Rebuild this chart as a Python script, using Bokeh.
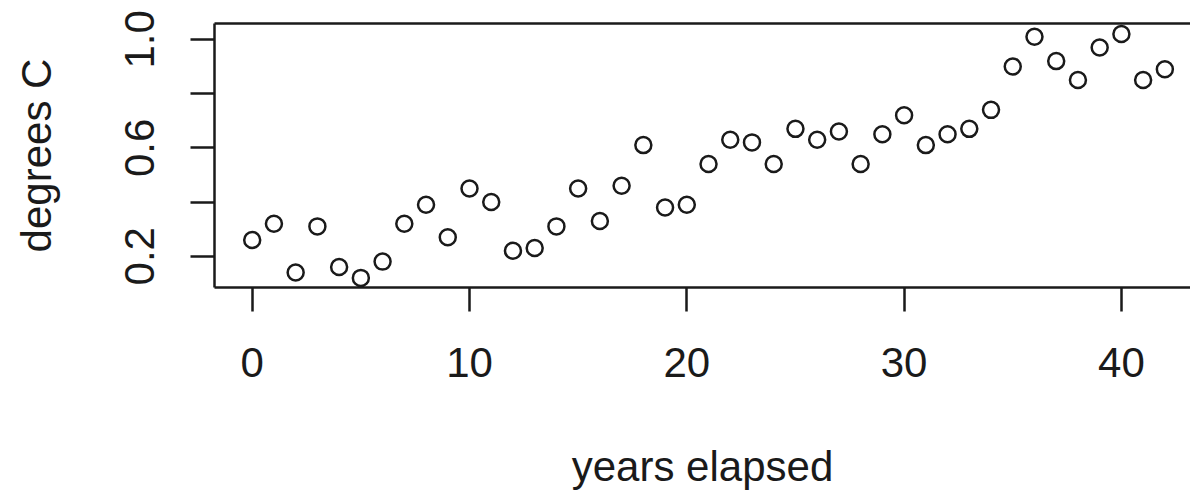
from bokeh.plotting import figure
from bokeh.models import FixedTicker, LinearAxis, Range1d
from bokeh.embed import file_html
from bokeh.resources import INLINE

# ---- data ----
years = list(range(43))
degrees = [0.26, 0.32, 0.14, 0.31, 0.16, 0.12, 0.18, 0.32, 0.39, 0.27,
           0.45, 0.40, 0.22, 0.23, 0.31, 0.45, 0.33, 0.46, 0.61, 0.38,
           0.39, 0.54, 0.63, 0.62, 0.54, 0.67, 0.63, 0.66, 0.54, 0.65,
           0.72, 0.61, 0.65, 0.67, 0.74, 0.90, 1.01, 0.92, 0.85, 0.97,
           1.02, 0.85, 0.89]
x_ticks = [0, 10, 20, 30, 40]
y_ticks = [0.2, 0.4, 0.6, 0.8, 1.0]
y_tick_labels = {0.2: "0.2", 0.4: "", 0.6: "0.6", 0.8: "", 1.0: "1.0"}
x_title = "years elapsed"
y_title = "degrees C"

FONT = "Liberation Sans"
FS = "42px"
INK = "#1a1a1a"
LW = 2.5

p = figure(width=1190, height=494, output_backend="svg", toolbar_location=None,
           x_range=Range1d(-1.735, 43.18), y_range=Range1d(0.0845, 1.0587),
           x_axis_type=None, y_axis_type=None,
           min_border_left=214, min_border_right=0, min_border_top=23,
           min_border_bottom=207)
p.outline_line_color = None
p.grid.visible = False
p.background_fill_color = "white"
p.border_fill_color = "white"

def style(ax):
    ax.axis_line_color = INK
    ax.axis_line_width = LW
    ax.major_tick_line_color = INK
    ax.major_tick_line_width = LW
    ax.major_tick_in = 0
    ax.major_tick_out = 24
    ax.minor_tick_line_color = None
    ax.major_label_text_font = FONT
    ax.major_label_text_font_size = FS
    ax.major_label_text_color = INK
    ax.axis_label_text_font = FONT
    ax.axis_label_text_font_size = FS
    ax.axis_label_text_font_style = "normal"
    ax.axis_label_text_color = INK

xaxis = LinearAxis(ticker=FixedTicker(ticks=x_ticks), axis_label=x_title)
style(xaxis)
xaxis.major_label_standoff = 36
xaxis.axis_label_standoff = 63
p.add_layout(xaxis, "below")

yaxis = LinearAxis(ticker=FixedTicker(ticks=y_ticks), axis_label=y_title)
style(yaxis)
yaxis.major_label_overrides = y_tick_labels
yaxis.major_label_orientation = "parallel"
yaxis.major_label_standoff = 36
yaxis.axis_label_standoff = 63
p.add_layout(yaxis, "left")

top = LinearAxis(ticker=FixedTicker(ticks=[]))
style(top)
top.major_tick_out = 0
top.major_label_text_color = None
p.add_layout(top, "above")

p.scatter(years, degrees, marker="circle", size=16, fill_color=None,
          line_color=INK, line_width=LW)

open("out.html", "w").write(file_html(p, INLINE))
